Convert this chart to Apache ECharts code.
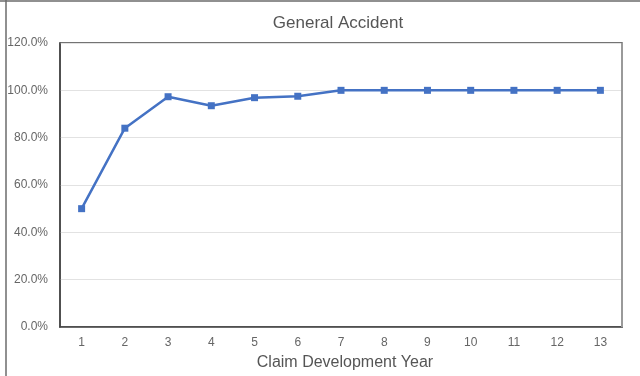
<!DOCTYPE html>
<html>
<head>
<meta charset="utf-8">
<script src="https://cdn.jsdelivr.net/npm/echarts@6/dist/echarts.min.js"></script>
<style>
  html, body { margin: 0; padding: 0; background: #fff; }
  #chart { width: 640px; height: 376px; }
</style>
</head>
<body>
<div id="chart"></div>
<script>
// Development years on the x axis
const years = ['1', '2', '3', '4', '5', '6', '7', '8', '9', '10', '11', '12', '13'];
// Cumulative share developed, in percent
const developed = [50.0, 84.0, 97.3, 93.5, 96.9, 97.5, 100, 100, 100, 100, 100, 100, 100];
// Value axis range
const yMin = 0;
const yMax = 120;
const yStep = 20;

const chart = echarts.init(document.getElementById('chart'));
const labelFont = 'Liberation Sans, Arial, sans-serif';

chart.setOption({
  animation: false,
  backgroundColor: '#ffffff',
  title: {
    text: 'General Accident',
    left: 333,
    top: 10,
    textAlign: 'center',
    textStyle: { fontFamily: labelFont, fontSize: 17, fontWeight: 'normal', color: '#555555' }
  },
  graphic: [
    // outer frame, top and left edges
    { type: 'line', shape: { x1: 0, y1: 1, x2: 640, y2: 1 }, style: { stroke: '#6b6b6b', lineWidth: 1.5 } },
    { type: 'line', shape: { x1: 6, y1: 0, x2: 6, y2: 376 }, style: { stroke: '#6b6b6b', lineWidth: 1.5 } },
    // lighter right edge of the plot box
    { type: 'line', shape: { x1: 622, y1: 43, x2: 622, y2: 327 }, style: { stroke: '#9a9a9a', lineWidth: 2 }, z: 10 }
  ],
  grid: {
    left: 60, right: 18, top: 43, bottom: 49,
    show: true, borderColor: '#454545', borderWidth: 1.5, backgroundColor: 'transparent'
  },
  xAxis: {
    type: 'category',
    data: years,
    boundaryGap: true,
    name: 'Claim Development Year',
    nameLocation: 'middle',
    nameGap: 28,
    nameTextStyle: { fontFamily: labelFont, fontSize: 16, color: '#555555', padding: [0, 0, 0, 8] },
    axisLine: { show: true, lineStyle: { color: '#454545', width: 1.5 } },
    axisTick: { show: false },
    axisLabel: { fontFamily: labelFont, fontSize: 12, color: '#666666', margin: 10 },
    splitLine: { show: false }
  },
  yAxis: {
    type: 'value',
    min: yMin,
    max: yMax,
    interval: yStep,
    axisLine: { show: true, lineStyle: { color: '#454545', width: 1.5 } },
    axisTick: { show: false },
    axisLabel: {
      fontFamily: labelFont, fontSize: 12, color: '#666666', margin: 12,
      formatter: v => v.toFixed(1) + '%'
    },
    splitLine: { show: true, lineStyle: { color: '#e2e2e2', width: 1 } }
  },
  series: [{
    type: 'line',
    data: developed,
    symbol: 'rect',
    symbolSize: 7,
    lineStyle: { color: '#4472c4', width: 2.5 },
    itemStyle: { color: '#4472c4' },
    z: 5
  }]
});
</script>
</body>
</html>
